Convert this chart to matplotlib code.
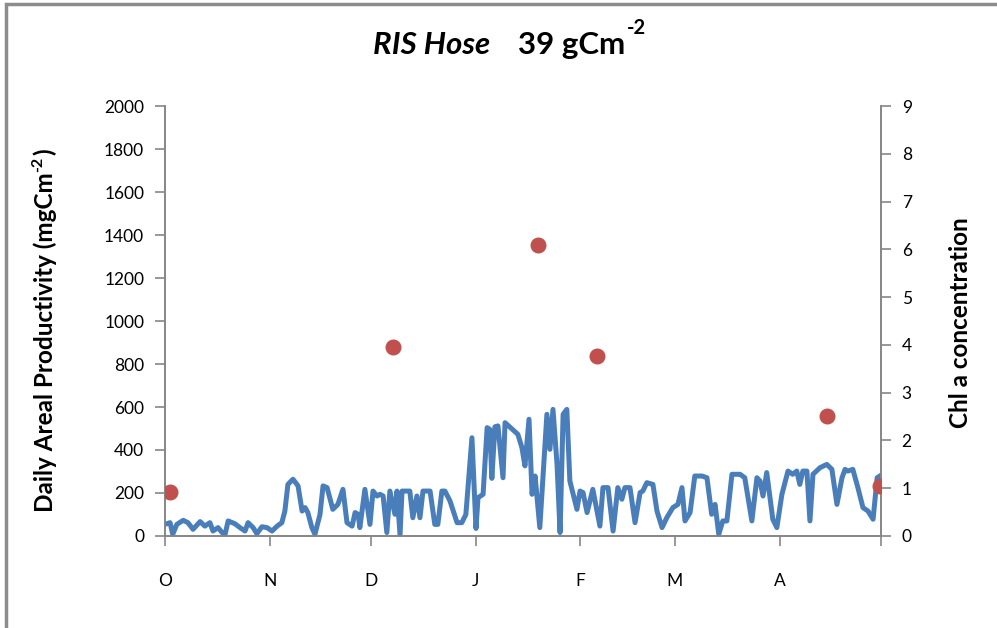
import numpy as np
import pandas as pd
import matplotlib
matplotlib.use("Agg")
import matplotlib.pyplot as plt
from matplotlib.patches import Rectangle

plt.rcParams['font.family'] = ['Lato', 'DejaVu Sans']

start = pd.Timestamp("2009-10-01")

# daily areal productivity (mgC m-2); day = days since 1 Oct
prodDay = [0, 1.5, 2.3, 3.5, 5.4, 6.8, 8.3, 10.4, 11.8, 13.3, 14.2, 15.7, 16.9, 17.8,
           18.7, 20.7, 22.2, 23.7, 24.6, 26.1, 27.2, 28.7, 30.2, 31.7, 33.2, 34.6,
           35.5, 36.4, 37.9, 39.4, 40.6, 41.5, 42.3, 43.5, 44.4, 45.9, 46.8, 48.0,
           49.7, 51.2, 52.7, 53.9, 55.4, 56.3, 57.2, 57.7, 59.2, 60.7, 61.6, 62.8,
           63.7, 64.6, 65.7, 66.6, 68.1, 68.7, 69.6, 70.2, 71.7, 72.5, 73.4, 74.6,
           75.5, 76.4, 78.5, 79.9, 80.8, 82.0, 82.9, 84.4, 86.5, 87.9, 89.1, 90.9,
           92.1, 92.7, 94.2, 95.4, 96.2, 96.8, 97.7, 98.6, 100.1, 100.7, 104.5,
           105.7, 106.6, 107.8, 108.7, 109.6, 111.0, 113.1, 114.0, 114.9, 116.1,
           117.0, 117.9, 119.0, 119.9, 122.0, 122.9, 123.8, 125.0, 126.7, 128.8,
           129.7, 131.2, 132.7, 134.1, 135.3, 136.2, 137.7, 139.2, 140.7, 141.5,
           142.7, 144.5, 145.7, 147.2, 148.6, 150.4, 151.9, 153.1, 154.0, 155.5,
           156.9, 159.0, 160.5, 161.9, 162.9, 164.0, 165.2, 166.4, 167.9, 170.3,
           171.7, 173.8, 175.3, 176.2, 177.1, 178.2, 180.0, 181.2, 182.7, 184.5,
           185.9, 187.1, 188.0, 188.9, 190.1, 191.0, 191.9, 194.0, 196.0, 197.5,
           199.0, 200.5, 201.4, 202.2, 203.7, 205.2, 206.7, 208.2, 209.7, 210.9, 211.7]
prodVal = [54, 62, 8, 54, 73, 62, 31, 67, 46, 62, 23, 39, 16, 8,
           70, 57, 39, 23, 62, 39, 11, 43, 39, 23, 46, 62,
           116, 240, 264, 233, 116, 132, 109, 39, 8, 100, 233, 225,
           124, 147, 217, 62, 46, 109, 101, 39, 217, 54, 209, 186,
           194, 186, 16, 209, 101, 209, 5, 209, 209, 209, 85, 186,
           85, 209, 209, 54, 54, 209, 209, 163, 62, 62, 100, 457,
           35, 178, 194, 504, 496, 268, 508, 512, 271, 527, 473,
           411, 326, 543, 194, 279, 39, 566, 403, 589, 333,
           16, 566, 589, 256, 124, 209, 202, 109, 217, 46,
           225, 225, 23, 225, 171, 225, 225, 62, 202, 209,
           248, 240, 116, 39, 85, 132, 147, 225, 70, 109,
           279, 279, 271, 101, 147, 8, 70, 70, 287, 287,
           271, 70, 271, 256, 186, 295, 78, 39, 194, 302,
           287, 302, 240, 302, 302, 70, 287, 318, 333, 310,
           147, 271, 310, 302, 310, 225, 132, 116, 78, 271, 279]

# Chl a concentration samples
chlDay = [1.5, 67.5, 110.5, 128.0, 196.0, 211.7]
chlVal = [0.92, 3.95, 6.09, 3.77, 2.51, 1.05]

monthLetters = ["O", "N", "D", "J", "F", "M", "A"]

prodDates = start + pd.to_timedelta(prodDay, unit="D")
chlDates = start + pd.to_timedelta(chlDay, unit="D")

fig = plt.figure(figsize=(9.97, 6.28), dpi=100)
ax = fig.add_axes([0.1655, 0.1465, 0.718, 0.6847])
ax2 = ax.twinx()

ax.plot(prodDates, prodVal, color="#4a7ebb", lw=3.6, solid_joinstyle="round", zorder=3)
ax2.plot(chlDates, chlVal, "o", color="#c0504d", ms=10.5, zorder=4)

ax.set_xlim(start, start + pd.Timedelta(days=212))
ax.set_ylim(0, 2000)
ax.set_yticks(np.arange(0, 2001, 200))
ax2.set_ylim(0, 9)
ax2.set_yticks(np.arange(0, 10, 1))

monthTicks = list(pd.date_range(start, periods=8, freq="MS"))
ax.set_xticks(monthTicks)
ax.set_xticklabels(monthLetters + [""])

gray = "#868686"
for a in (ax, ax2):
    a.spines["top"].set_visible(False)
    for s in ("left", "right", "bottom"):
        a.spines[s].set_color(gray)
        a.spines[s].set_linewidth(1.2)
    a.tick_params(colors=gray, labelcolor="black", labelsize=12.5, length=7, width=1.2)
ax.tick_params(axis="x", pad=20)
ax.tick_params(axis="y", pad=8)
ax2.tick_params(axis="y", pad=8)

fig.text(0.963, 0.487, "Chl a concentration", rotation=90, ha="center", va="center",
         fontsize=17.5, fontweight="bold")

# left axis title built from pieces so the superscript keeps a plain hyphen
yl = fig.text(0.045, 0.184, "Daily Areal Productivity (mgCm", rotation=90,
              ha="center", va="bottom", fontsize=17.5, fontweight="bold")
t1 = fig.text(0.492, 0.928, "RIS Hose", ha="right", va="center", fontsize=22.5,
              fontweight="bold", fontstyle="italic")
t2 = fig.text(0.52, 0.928, "39 gCm", ha="left", va="center", fontsize=22.5, fontweight="bold")

fig.canvas.draw()
r = fig.canvas.get_renderer()
bb = yl.get_window_extent(r)
sup = fig.text(bb.x0 - 2, bb.y1 + 1, "-2", rotation=90, ha="left", va="bottom",
               transform=None, fontsize=11.5, fontweight="bold")
fig.canvas.draw()
sbb = sup.get_window_extent(r)
fig.text(bb.x0, sbb.y1 + 1, ")", rotation=90, ha="left", va="bottom",
         transform=None, fontsize=17.5, fontweight="bold")

bb2 = t2.get_window_extent(r)
fig.text(bb2.x1 + 1, bb2.y1 - 7, "-2", ha="left", va="bottom", transform=None,
         fontsize=14.5, fontweight="bold")

fig.patches.append(Rectangle((0.006, -0.1), 1.2, 1.094, transform=fig.transFigure,
                             fill=False, edgecolor="#8c8c8c", lw=2.5))

fig.savefig("out.png", dpi=100)
